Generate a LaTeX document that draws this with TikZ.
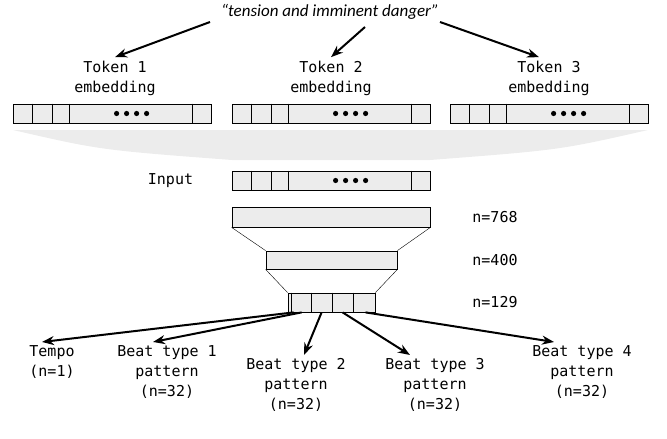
\documentclass[tikz,border=0pt]{standalone}
\usepackage{fontspec}
\setmainfont{DejaVu Sans Mono}
\newfontfamily\titlefont{Carlito}
\usetikzlibrary{positioning,arrows.meta}

\tikzset{
  bar/.style={draw, thick, fill=gray!15, minimum height=19pt, inner sep=0pt},
  lbl/.style={align=center, font=\fontsize{15}{20}\selectfont},
  arr/.style={-{Stealth[length=12pt,width=9pt]}, line width=2pt},
  dots/.style={font=\fontsize{18}{18}\selectfont}
}

% embedding bar with its cell dividers
\newcommand{\embbar}[3]{%
  \node[bar, minimum width=198pt] (#1) at (#2,#3) {};
  \foreach \dx in {20,40,57,180}
    \draw[thick] ([xshift=\dx pt]#1.north west) -- ([xshift=\dx pt]#1.south west);
  \foreach \dx in {104,114,124,134}
    \fill ([xshift=\dx pt]#1.west) circle (2.6pt);
}

\begin{document}
\begin{tikzpicture}[x=1pt,y=-1pt]
  \useasboundingbox (0,0) rectangle (667,439);

  % title and tokens
  \node[font=\titlefont\itshape\fontsize{17}{20}\selectfont] (title) at (330,12) {“tension and imminent danger”};
  \node[lbl] (tok1) at (115,78) {Token 1\\embedding};
  \node[lbl] (tok2) at (331,78) {Token 2\\embedding};
  \node[lbl] (tok3) at (549,78) {Token 3\\embedding};
  \coordinate (s1) at (210,22);
  \coordinate (s2) at (365,27);
  \coordinate (s3) at (440,22);
  \draw[arr] (s1) -- (tok1.north);
  \draw[arr] (s2) -- (tok2.north);
  \draw[arr] (s3) -- ([xshift=-10pt]tok3.north);

  % shaded merge
  \fill[gray!15] (13,130) -- (648,130) .. controls (560,150) .. (430,160)
    -- (232,160) .. controls (100,150) .. (13,130) -- cycle;

  \embbar{emb1}{112}{113.5}
  \embbar{emb2}{331}{113.5}
  \embbar{emb3}{549}{113.5}

  % network
  \embbar{inp}{331}{180.5}
  \node[lbl, left=35pt of inp] (inlbl) {Input};
  \node[bar, minimum width=198pt, minimum height=20pt] (l768) at (331,217) {};
  \node[bar, minimum width=131pt, minimum height=18pt] (l400) at (331.5,260) {};
  \node[bar, minimum width=87pt] (l129) at (331.5,302.5) {};
  \foreach \dx in {4,24,45,66}
    \draw[thick] ([xshift=\dx pt]l129.north west) -- ([xshift=\dx pt]l129.south west);
  \draw (l768.south west) -- (l400.north west);
  \draw (l768.south east) -- (l400.north east);
  \draw (l400.south west) -- (l129.north west);
  \draw (l400.south east) -- (l129.north east);
  \node[lbl] (n768) at (495,217) {n=768};
  \node[lbl] (n400) at (495,260) {n=400};
  \node[lbl] (n129) at (495,302) {n=129};

  % outputs
  \node[lbl, anchor=north] (tempo) at (52,342) {Tempo\\(n=1)};
  \node[lbl, anchor=north] (bt1) at (167,342) {Beat type 1\\pattern\\(n=32)};
  \node[lbl, anchor=north] (bt2) at (296,355) {Beat type 2\\pattern\\(n=32)};
  \node[lbl, anchor=north] (bt3) at (435,355) {Beat type 3\\pattern\\(n=32)};
  \node[lbl, anchor=north] (bt4) at (582,342) {Beat type 4\\pattern\\(n=32)};
  \draw[arr] ([xshift=6pt]l129.south west) -- ([xshift=-10pt]tempo.north);
  \draw[arr] ([xshift=14pt]l129.south west) -- ([xshift=-14pt]bt1.north);
  \draw[arr] ([xshift=34pt]l129.south west) -- ([xshift=8pt]bt2.north);
  \draw[arr] ([xshift=55pt]l129.south west) -- ([xshift=-25pt]bt3.north);
  \draw[arr] ([xshift=78pt]l129.south west) -- ([xshift=-28pt]bt4.north);
\end{tikzpicture}
\end{document}
